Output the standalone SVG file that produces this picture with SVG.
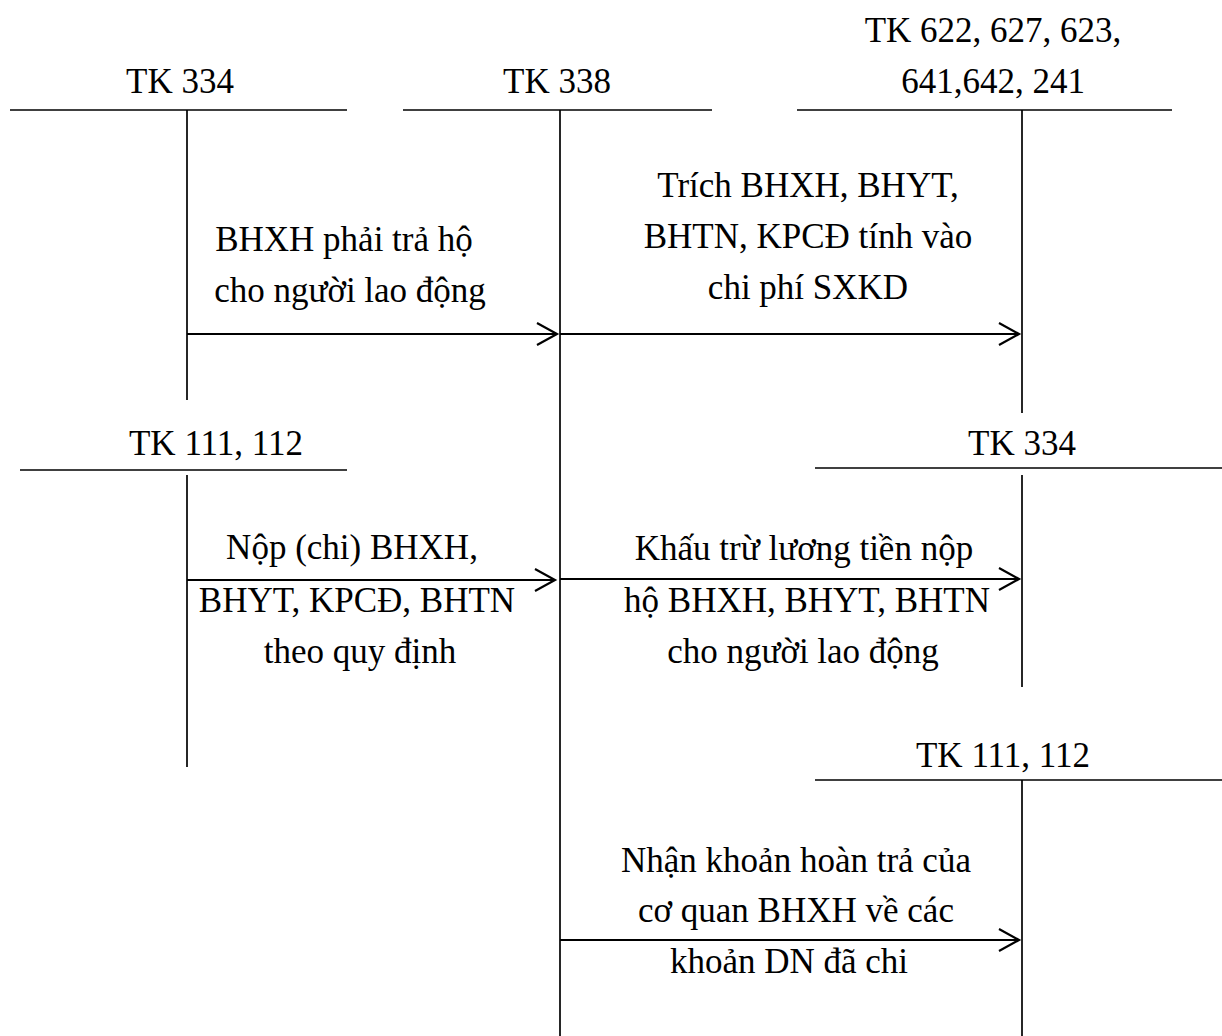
<svg xmlns="http://www.w3.org/2000/svg" width="1222" height="1036" viewBox="0 0 1222 1036">
<style>
text{font-family:"Liberation Serif","Times New Roman",serif;font-size:35px;fill:#000;text-anchor:middle}
.ln{stroke:#000;stroke-width:1.7;fill:none}
.ar{stroke:#000;stroke-width:1.9;fill:none;marker-end:url(#ah)}
</style>
<defs>
<marker id="ah" markerUnits="userSpaceOnUse" markerWidth="30" markerHeight="30" refX="21" refY="12" orient="auto">
<polyline points="1,1 21,12 1,23" fill="none" stroke="#000" stroke-width="2.2"/>
</marker>
</defs>
<rect width="1222" height="1036" fill="#fff"/>
<g id="tk334-top">
<text x="180" y="93">TK 334</text>
<line class="ln" x1="10" y1="110" x2="347" y2="110"/>
<line class="ln" x1="187" y1="110" x2="187" y2="400"/>
</g>
<g id="tk338">
<text x="557" y="93">TK 338</text>
<line class="ln" x1="403" y1="110" x2="712" y2="110"/>
<line class="ln" x1="560" y1="110" x2="560" y2="1036"/>
</g>
<g id="tk622">
<text x="993" y="42">TK 622, 627, 623,</text>
<text x="993" y="93">641,642, 241</text>
<line class="ln" x1="797" y1="110" x2="1172" y2="110"/>
<line class="ln" x1="1022" y1="110" x2="1022" y2="413"/>
</g>
<g id="tk111-left">
<text x="216" y="455">TK 111, 112</text>
<line class="ln" x1="20" y1="470" x2="347" y2="470"/>
<line class="ln" x1="187" y1="475" x2="187" y2="767"/>
</g>
<g id="tk334-right">
<text x="1022" y="455">TK 334</text>
<line class="ln" x1="815" y1="468" x2="1222" y2="468"/>
<line class="ln" x1="1022" y1="475" x2="1022" y2="687"/>
</g>
<g id="tk111-right">
<text x="1003" y="767">TK 111, 112</text>
<line class="ln" x1="815" y1="780" x2="1222" y2="780"/>
<line class="ln" x1="1022" y1="780" x2="1022" y2="1036"/>
</g>
<g id="connectors">
<line class="ar" x1="187" y1="334" x2="557" y2="334"/>
<line class="ar" x1="560" y1="334" x2="1019" y2="334"/>
<line class="ar" x1="187" y1="580" x2="555" y2="580"/>
<line class="ar" x1="560" y1="579" x2="1019" y2="579"/>
<line class="ar" x1="560" y1="940" x2="1019" y2="940"/>
</g>
<g id="labels">
<text x="344" y="251">BHXH phải trả hộ</text>
<text x="350" y="302">cho người lao động</text>
<text x="808" y="197">Trích BHXH, BHYT,</text>
<text x="808" y="248">BHTN, KPCĐ tính vào</text>
<text x="808" y="299">chi phí SXKD</text>
<text x="352" y="559">Nộp (chi) BHXH,</text>
<text x="357" y="612">BHYT, KPCĐ, BHTN</text>
<text x="360" y="663">theo quy định</text>
<text x="804" y="560">Khấu trừ lương tiền nộp</text>
<text x="807" y="612">hộ BHXH, BHYT, BHTN</text>
<text x="803" y="663">cho người lao động</text>
<text x="796" y="872">Nhận khoản hoàn trả của</text>
<text x="796" y="922">cơ quan BHXH về các</text>
<text x="789" y="973">khoản DN đã chi</text>
</g>
</svg>
